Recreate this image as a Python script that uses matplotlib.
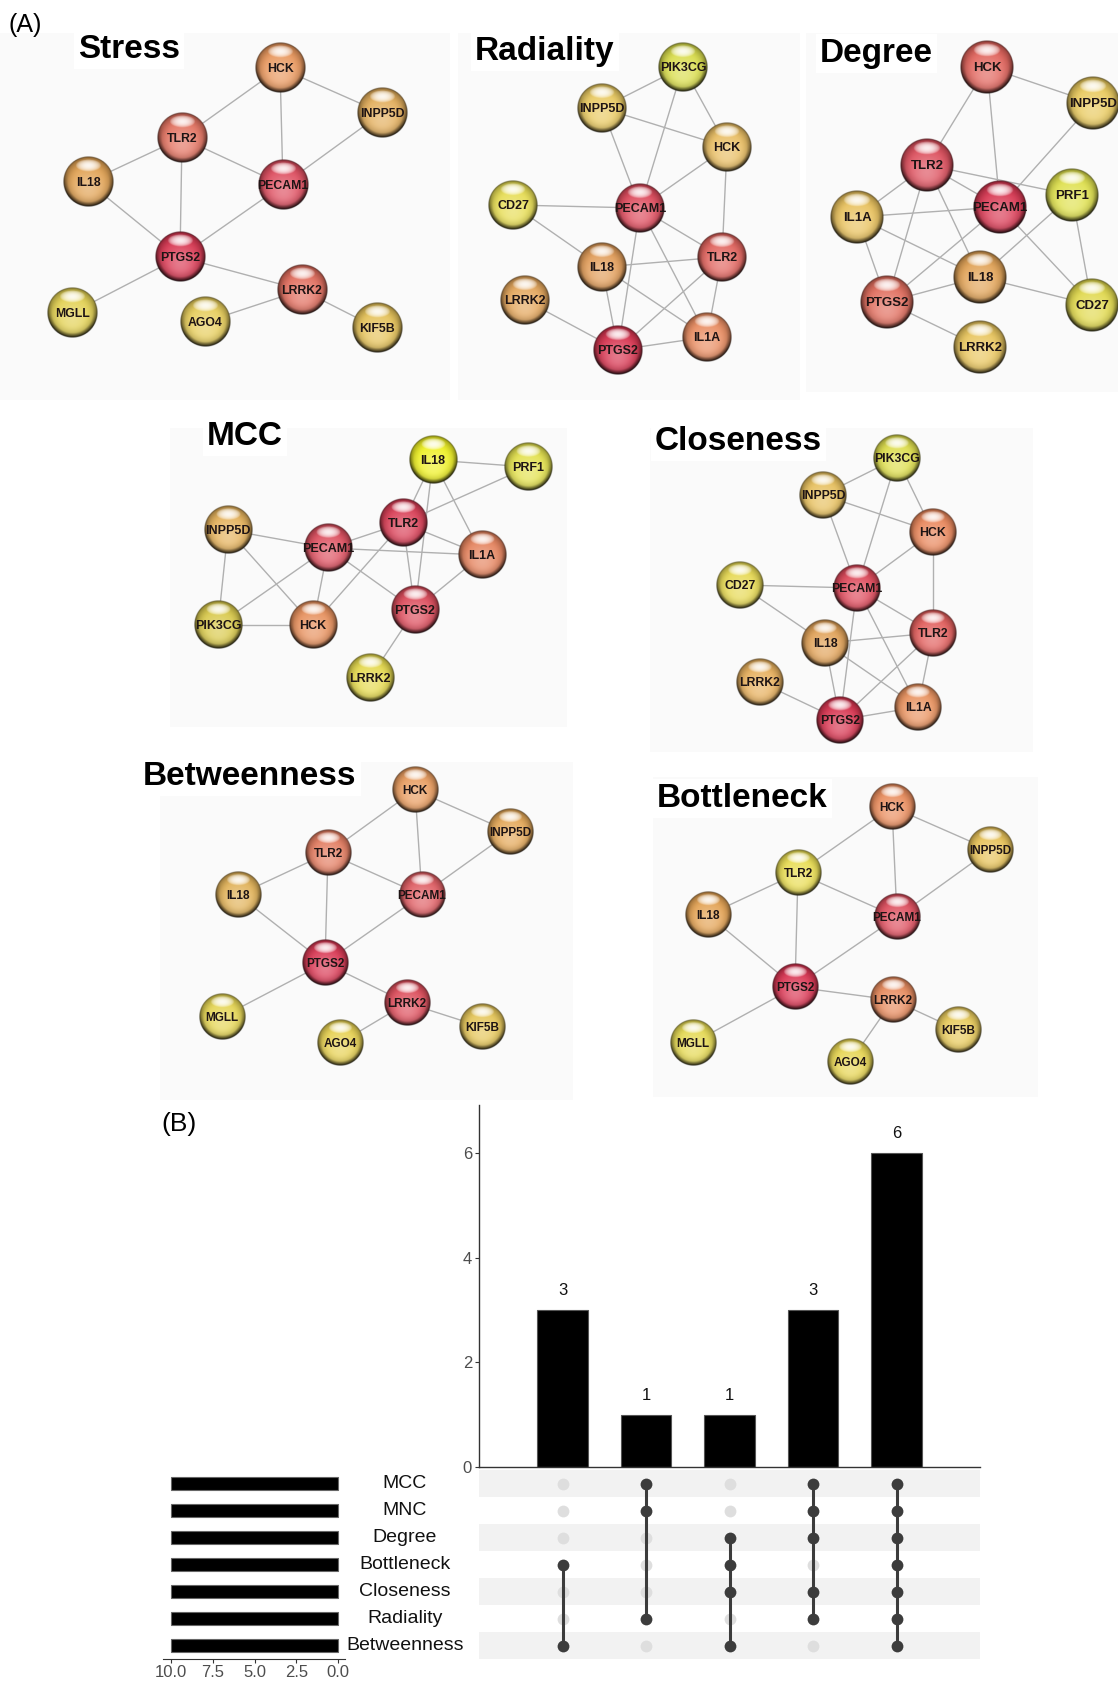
import numpy as np
import matplotlib.pyplot as plt
from matplotlib.colors import to_rgb
from matplotlib.patches import Rectangle
from matplotlib.transforms import blended_transform_factory

plt.rcParams['font.family'] = ['Liberation Sans', 'DejaVu Sans']

W, H = 1118, 1684

# ---- (A) hub-gene networks -------------------------------------------------
# edges of the 10-gene network shared by Stress / Betweenness / Bottleneck
path_edges = [('HCK', 'TLR2'), ('HCK', 'PECAM1'), ('HCK', 'INPP5D'),
              ('INPP5D', 'PECAM1'), ('TLR2', 'PECAM1'), ('TLR2', 'IL18'),
              ('TLR2', 'PTGS2'), ('IL18', 'PTGS2'), ('PECAM1', 'PTGS2'),
              ('PTGS2', 'MGLL'), ('PTGS2', 'LRRK2'), ('LRRK2', 'AGO4'),
              ('LRRK2', 'KIF5B')]

# edges of the network shared by Radiality / Closeness
radial_edges = [('PIK3CG', 'INPP5D'), ('PIK3CG', 'HCK'), ('PIK3CG', 'PECAM1'),
                ('INPP5D', 'HCK'), ('INPP5D', 'PECAM1'), ('HCK', 'PECAM1'),
                ('HCK', 'TLR2'), ('CD27', 'PECAM1'), ('CD27', 'IL18'),
                ('PECAM1', 'TLR2'), ('PECAM1', 'IL1A'), ('PECAM1', 'PTGS2'),
                ('IL18', 'TLR2'), ('IL18', 'IL1A'), ('IL18', 'PTGS2'),
                ('TLR2', 'PTGS2'), ('TLR2', 'IL1A'), ('LRRK2', 'PTGS2'),
                ('PTGS2', 'IL1A')]

degree_edges = [('HCK', 'INPP5D'), ('HCK', 'TLR2'), ('HCK', 'PECAM1'),
                ('INPP5D', 'PECAM1'), ('TLR2', 'PECAM1'), ('TLR2', 'IL1A'),
                ('TLR2', 'PTGS2'), ('TLR2', 'IL18'), ('TLR2', 'PRF1'),
                ('IL1A', 'PECAM1'), ('IL1A', 'IL18'), ('IL1A', 'PTGS2'),
                ('PECAM1', 'PTGS2'), ('PECAM1', 'CD27'), ('PRF1', 'IL18'),
                ('PRF1', 'CD27'), ('IL18', 'PTGS2'), ('IL18', 'CD27'),
                ('PTGS2', 'LRRK2')]

mcc_edges = [('IL18', 'PRF1'), ('IL18', 'TLR2'), ('IL18', 'IL1A'),
             ('IL18', 'PTGS2'), ('PRF1', 'TLR2'), ('INPP5D', 'PECAM1'),
             ('INPP5D', 'PIK3CG'), ('INPP5D', 'HCK'), ('PECAM1', 'TLR2'),
             ('PECAM1', 'IL1A'), ('PECAM1', 'HCK'), ('PECAM1', 'PTGS2'),
             ('PECAM1', 'PIK3CG'), ('TLR2', 'IL1A'), ('TLR2', 'PTGS2'),
             ('TLR2', 'HCK'), ('IL1A', 'PTGS2'), ('PIK3CG', 'HCK'),
             ('PTGS2', 'LRRK2')]

stress_genes = ['HCK', 'INPP5D', 'TLR2', 'PECAM1', 'IL18', 'PTGS2', 'LRRK2', 'MGLL', 'AGO4', 'KIF5B']
stress_x = [280, 382, 182, 283, 88, 180, 302, 72, 205, 377]
stress_y = [68, 113, 138, 185, 182, 257, 290, 313, 322, 328]
stress_colors = ['#e8955a', '#e2ac58', '#e2705e', '#dd4a5c', '#e0a050',
                 '#d8344f', '#e06a5a', '#e2d050', '#e6cc58', '#e4c055']

radiality_genes = ['PIK3CG', 'INPP5D', 'HCK', 'CD27', 'PECAM1', 'TLR2', 'IL18', 'LRRK2', 'IL1A', 'PTGS2']
radiality_x = [683, 602, 727, 513, 640, 722, 602, 525, 707, 618]
radiality_y = [67, 108, 147, 205, 208, 257, 267, 300, 337, 350]
radiality_colors = ['#d8dc48', '#e8c85e', '#e8bc60', '#e6dc50', '#dc4658',
                    '#e0605a', '#e09a55', '#e3a458', '#e88a5e', '#d6304c']

degree_genes = ['HCK', 'INPP5D', 'TLR2', 'PECAM1', 'PRF1', 'IL1A', 'IL18', 'PTGS2', 'CD27', 'LRRK2']
degree_x = [987, 1093, 927, 1000, 1072, 857, 980, 887, 1092, 980]
degree_y = [67, 103, 165, 207, 195, 217, 277, 302, 305, 347]
degree_colors = ['#e06058', '#e8c85a', '#dc4c5a', '#d8344f', '#dee04a',
                 '#e8c05a', '#e0a052', '#e06a5a', '#e0d84a', '#e8c45a']

mcc_genes = ['IL18', 'PRF1', 'INPP5D', 'TLR2', 'PECAM1', 'IL1A', 'PIK3CG', 'HCK', 'PTGS2', 'LRRK2']
mcc_x = [433, 528, 228, 403, 328, 482, 218, 313, 415, 370]
mcc_y = [460, 467, 530, 523, 548, 555, 625, 625, 610, 678]
mcc_colors = ['#eef020', '#e2e04a', '#e4b058', '#d83a52', '#dc4c5c',
              '#e4805a', '#d8c848', '#e68e5a', '#dc4858', '#e4d84a']

closeness_genes = ['PIK3CG', 'INPP5D', 'HCK', 'CD27', 'PECAM1', 'TLR2', 'IL18', 'LRRK2', 'IL1A', 'PTGS2']
closeness_x = [897, 823, 933, 740, 857, 933, 825, 760, 918, 840]
closeness_y = [458, 495, 532, 585, 588, 633, 643, 682, 707, 720]
closeness_colors = ['#dcdc48', '#e6be5a', '#e88458', '#e6d850', '#dc4456',
                    '#e05a58', '#e0a055', '#e6ae5a', '#e8905c', '#d6304c']

betweenness_genes = ['HCK', 'INPP5D', 'TLR2', 'PECAM1', 'IL18', 'PTGS2', 'LRRK2', 'MGLL', 'AGO4', 'KIF5B']
betweenness_x = [415, 510, 328, 422, 238, 325, 407, 222, 340, 482]
betweenness_y = [790, 832, 853, 895, 895, 963, 1003, 1017, 1043, 1027]
betweenness_colors = ['#e89a5c', '#e3a655', '#e27a5e', '#de5a60', '#e0b055',
                      '#d83450', '#dc4a58', '#e4d450', '#e6d050', '#e4c455']

bottleneck_genes = ['HCK', 'INPP5D', 'TLR2', 'PECAM1', 'IL18', 'PTGS2', 'LRRK2', 'MGLL', 'AGO4', 'KIF5B']
bottleneck_x = [892, 990, 798, 897, 708, 795, 893, 693, 850, 958]
bottleneck_y = [807, 850, 873, 917, 915, 987, 1000, 1043, 1062, 1030]
bottleneck_colors = ['#e88a5a', '#e6c055', '#e8dc50', '#dc4a5a', '#e2a050',
                     '#d8304e', '#e6885a', '#e4d850', '#e6d450', '#e6c858']

# (title, genes, x, y, colours, edges, node radius, label size, title pos, background box)
panels = [
    ('Stress', stress_genes, stress_x, stress_y, stress_colors, path_edges,
     25.5, 8.8, (78, 58), (0, 33, 450, 400)),
    ('Radiality', radiality_genes, radiality_x, radiality_y, radiality_colors, radial_edges,
     25, 9, (475, 60), (458, 33, 800, 400)),
    ('Degree', degree_genes, degree_x, degree_y, degree_colors, degree_edges,
     27, 9.5, (820, 62), (806, 33, 1118, 392)),
    ('MCC', mcc_genes, mcc_x, mcc_y, mcc_colors, mcc_edges,
     24.5, 9, (207, 445), (170, 428, 567, 727)),
    ('Closeness', closeness_genes, closeness_x, closeness_y, closeness_colors, radial_edges,
     24, 8.8, (655, 450), (650, 428, 1033, 752)),
    ('Betweenness', betweenness_genes, betweenness_x, betweenness_y, betweenness_colors, path_edges,
     23.5, 8.5, (143, 785), (160, 762, 573, 1100)),
    ('Bottleneck', bottleneck_genes, bottleneck_x, bottleneck_y, bottleneck_colors, path_edges,
     23.5, 8.5, (657, 807), (653, 777, 1038, 1097)),
]

# ---- (B) UpSet plot ---------------------------------------------------------
methods = ['MCC', 'MNC', 'Degree', 'Bottleneck', 'Closeness', 'Radiality', 'Betweenness']
set_sizes = [10, 10, 10, 10, 10, 10, 10]
intersection_counts = [3, 1, 1, 3, 6]
intersection_members = [
    ['Bottleneck', 'Betweenness'],
    ['MCC', 'MNC', 'Radiality'],
    ['Degree', 'Bottleneck', 'Closeness', 'Betweenness'],
    ['MCC', 'MNC', 'Degree', 'Closeness', 'Radiality'],
    ['MCC', 'MNC', 'Degree', 'Bottleneck', 'Closeness', 'Radiality', 'Betweenness'],
]


def sphere_image(color, n=96):
    """Glossy ball shading in the style of the STRING/cytoHubba node icons."""
    rgb = np.array(to_rgb(color))
    t = np.linspace(-1, 1, n)
    u, v = np.meshgrid(t, t)
    r = np.hypot(u, v)
    glow = np.exp(-(u ** 2 + (v - 0.25) ** 2) / 0.45)
    img = rgb + (1 - rgb) * (0.35 * glow)[..., None]
    rim = np.clip((r - 0.5) / 0.5, 0, 1) ** 2
    img = img * (1 - 0.38 * rim)[..., None]
    shade = np.clip((r - 0.8) / 0.2, 0, 1) * np.clip(0.45 + v, 0, 1)
    img = img * (1 - 0.8 * shade)[..., None]
    edge = np.clip((r - 0.93) / 0.07, 0, 1)
    img = img * (1 - 0.45 * edge)[..., None]
    hl = 1 - ((u / 0.5) ** 2 + ((v + 0.64) / 0.24) ** 2)
    hl = np.clip(hl, 0, 1) ** 0.6
    img = img + (1 - img) * (0.9 * hl)[..., None]
    alpha = np.clip((1 - r) * n / 2, 0, 1)
    return np.dstack([np.clip(img, 0, 1), alpha])


fig = plt.figure(figsize=(W / 100, H / 100), dpi=100)
net = fig.add_axes([0, 0, 1, 1])
net.axis('off')

for (title, genes, xs, ys, cols, edges, rad, lsize, tpos, box) in panels:
    x0, y0, x1, y1 = box
    net.add_patch(Rectangle((x0, y0), x1 - x0, y1 - y0, fc='#fafafa', ec='none', zorder=0))
    pos = {g: (x, y) for g, x, y in zip(genes, xs, ys)}
    for a, b in edges:
        net.plot([pos[a][0], pos[b][0]], [pos[a][1], pos[b][1]],
                 color='#b0b0b0', lw=1.0, zorder=1)
    for g, x, y, c in zip(genes, xs, ys, cols):
        net.imshow(sphere_image(c), extent=(x - rad, x + rad, y + rad, y - rad),
                   interpolation='bilinear', aspect='auto', zorder=2)
        net.text(x, y + 1, g, ha='center', va='center', fontsize=lsize,
                 fontweight='bold', color='#1e1414', zorder=3)
    net.text(tpos[0], tpos[1], title, fontsize=24, fontweight='bold', va='baseline',
             ha='left', zorder=4, bbox=dict(fc='white', ec='none', pad=3))

net.text(8, 25, '(A)', fontsize=18, va='center', ha='left')
net.text(161, 1124, '(B)', fontsize=19, va='center', ha='left')
net.set_xlim(0, W)
net.set_ylim(H, 0)


def fig_box(x0, y0, x1, y1):
    return [x0 / W, (H - y1) / H, (x1 - x0) / W, (y1 - y0) / H]


# intersection size bars
bar_ax = fig.add_axes(fig_box(479, 1105, 980, 1467))
xpos = np.arange(1, len(intersection_counts) + 1)
bar_ax.bar(xpos, intersection_counts, width=0.6, color='black', edgecolor='#555555', lw=0.8)
for xp, c in zip(xpos, intersection_counts):
    bar_ax.text(xp, c + 0.37, str(c), ha='center', va='center', fontsize=12, color='#111111')
bar_ax.set_xlim(0, 6)
bar_ax.set_ylim(0, 6.92)
bar_ax.set_xticks([])
bar_ax.set_yticks([0, 2, 4, 6])
bar_ax.tick_params(axis='y', length=3, color='#333333', labelcolor='#4d4d4d', labelsize=12, pad=2)
for side in ['top', 'right']:
    bar_ax.spines[side].set_visible(False)
for side in ['left', 'bottom']:
    bar_ax.spines[side].set_color('#333333')
    bar_ax.spines[side].set_linewidth(1.0)
bar_ax.patch.set_alpha(0)

# membership matrix
mat_ax = fig.add_axes(fig_box(479, 1470, 980, 1659))
mat_ax.set_xlim(0, 6)
mat_ax.set_ylim(len(methods) - 0.5, -0.5)
for i in range(0, len(methods), 2):
    mat_ax.axhspan(i - 0.5, i + 0.5, color='#f2f2f2', lw=0, zorder=0)
for xp, members in zip(xpos, intersection_members):
    rows = [methods.index(m) for m in members]
    other = [i for i in range(len(methods)) if i not in rows]
    mat_ax.plot([xp] * len(other), other, 'o', color='#dedede', ms=8.5, mec='none', zorder=2)
    mat_ax.plot([xp, xp], [min(rows), max(rows)], color='#3c3c3c', lw=2.2, zorder=2)
    mat_ax.plot([xp] * len(rows), rows, 'o', color='#3c3c3c', ms=8.5, mec='none', zorder=3)
mat_ax.axis('off')

# row labels sit between the set-size bars and the matrix
lab_tr = blended_transform_factory(fig.transFigure, mat_ax.transData)
for i, m in enumerate(methods):
    mat_ax.text(405 / W, i, m, transform=lab_tr, ha='center', va='center',
                fontsize=14, color='#111111')

# set size bars
set_ax = fig.add_axes(fig_box(163, 1470, 345, 1659))
set_ax.barh(np.arange(len(methods)), set_sizes, height=0.5, color='black',
            edgecolor='#666666', lw=0.8)
set_ax.set_ylim(len(methods) - 0.5, -0.5)
set_ax.set_xlim(10.48, -0.42)
set_ax.set_xticks([10, 7.5, 5, 2.5, 0])
set_ax.set_xticklabels(['10.0', '7.5', '5.0', '2.5', '0.0'])
set_ax.set_yticks([])
set_ax.tick_params(axis='x', length=3, color='#333333', labelcolor='#4d4d4d', labelsize=12, pad=1)
for side in ['top', 'right', 'left']:
    set_ax.spines[side].set_visible(False)
set_ax.spines['bottom'].set_color('#333333')
set_ax.patch.set_alpha(0)

fig.savefig('out.png', dpi=100)
